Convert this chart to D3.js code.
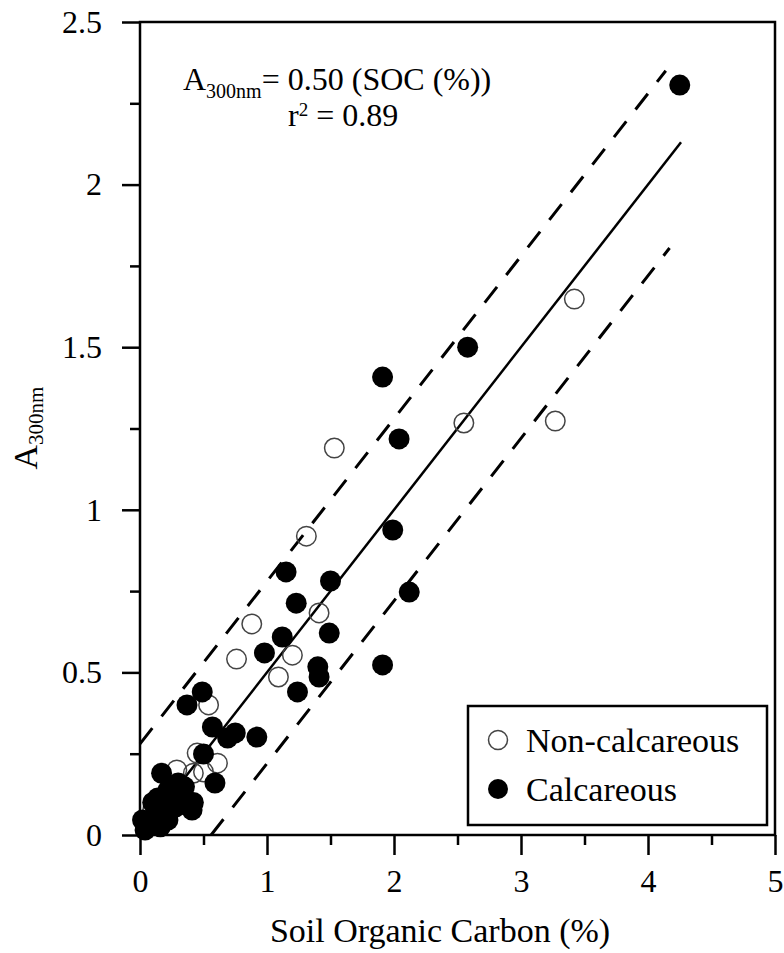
<!DOCTYPE html>
<html><head><meta charset="utf-8">
<script src="https://cdn.jsdelivr.net/npm/d3@7"></script>
<style>body{margin:0;background:#fff}svg{display:block}text{font-family:"Liberation Serif","Times New Roman",serif;fill:#000}</style>
</head><body>
<svg id="c" width="784" height="953"></svg>
<script>
// Calcareous (filled) : [SOC %, A300nm]
const calcSOC = [4.25,2.58,1.91,2.04,1.99,2.12,1.91,1.15,1.50,1.23,1.49,1.12,0.98,1.40,1.41,1.24,0.49,0.37,0.57,0.75,0.69,0.92,0.50,0.59,0.17,0.22,0.35,0.42,0.14,0.28,0.41,0.12,0.02,0.04,0.16,0.22,0.30,0.25,0.33,0.18,0.08,0.30,0.10];
const calcA   = [2.306,1.50,1.408,1.218,0.938,0.747,0.523,0.809,0.781,0.713,0.621,0.609,0.560,0.517,0.486,0.44,0.44,0.40,0.332,0.314,0.298,0.301,0.249,0.16,0.19,0.138,0.148,0.10,0.114,0.086,0.077,0.062,0.046,0.015,0.025,0.046,0.108,0.12,0.13,0.08,0.03,0.16,0.10];
// Non-calcareous (open)
const nonSOC = [3.42,2.55,3.27,1.53,1.31,1.41,0.88,1.20,0.76,1.09,0.54,0.45,0.61,0.29,0.42,0.50,0.10];
const nonA   = [1.648,1.267,1.273,1.19,0.919,0.683,0.649,0.553,0.541,0.486,0.40,0.252,0.221,0.20,0.19,0.194,0.077];
const xTicks = [0,1,2,3,4,5];
const yTicks = [0,0.5,1,1.5,2,2.5];
const xMinor = [0.5,1.5,2.5,3.5,4.5];
const yMinor = [0.25,0.75,1.25,1.75,2.25];
const slope = 0.50, band = 0.28;
const fitRange = [0, 4.26], upRange = [0, 4.14], loRange = [0.56, 4.17];
const legendLabels = ["Non-calcareous","Calcareous"];

const svg = d3.select("#c");
const x = d3.scaleLinear().domain([0,5]).range([140,775]);
const y = d3.scaleLinear().domain([0,2.5]).range([835,22]);

// axes
svg.append("g").attr("transform","translate(0,835)")
  .call(d3.axisBottom(x).tickValues(xTicks).tickSize(20).tickPadding(14).tickFormat(d3.format("")));
svg.append("g").attr("transform","translate(0,835)")
  .call(d3.axisBottom(x).tickValues(xMinor).tickSize(10).tickFormat(""));
svg.append("g").attr("transform","translate(140,0)")
  .call(d3.axisLeft(y).tickValues(yTicks).tickSize(18).tickPadding(20).tickFormat(d=>d3.format("")(d)));
svg.append("g").attr("transform","translate(140,0)")
  .call(d3.axisLeft(y).tickValues(yMinor).tickSize(10).tickFormat(""));
svg.selectAll(".domain").remove();
svg.selectAll(".tick line").attr("stroke","#000").attr("stroke-width",2.5);
svg.selectAll(".tick text").attr("font-size",32).attr("font-family","Liberation Serif");
// frame
svg.append("rect").attr("x",x(0)).attr("y",y(2.5)).attr("width",x(5)-x(0)).attr("height",y(0)-y(2.5))
  .attr("fill","none").attr("stroke","#000").attr("stroke-width",2.5);

// regression lines
const line = d3.line().x(d=>x(d[0])).y(d=>y(d[1]));
const seg = (r,off)=>r.map(v=>[v, slope*v+off]);
svg.append("path").attr("d",line(seg(fitRange,0))).attr("stroke","#000").attr("stroke-width",2.5).attr("fill","none");
svg.append("path").attr("d",line(seg(upRange,band))).attr("stroke","#000").attr("stroke-width",3).attr("fill","none").attr("stroke-dasharray","20,15");
svg.append("path").attr("d",line(seg(loRange,-band))).attr("stroke","#000").attr("stroke-width",3).attr("fill","none").attr("stroke-dasharray","20,15");

// points
const R = 10.5;
svg.append("g").selectAll("circle").data(nonSOC.map((v,i)=>[v,nonA[i]])).join("circle")
  .attr("cx",d=>x(d[0])).attr("cy",d=>y(d[1])).attr("r",R-0.75)
  .attr("fill","none").attr("stroke","#444").attr("stroke-width",1.5);
svg.append("g").selectAll("circle").data(calcSOC.map((v,i)=>[v,calcA[i]])).join("circle")
  .attr("cx",d=>x(d[0])).attr("cy",d=>y(d[1])).attr("r",R).attr("fill","#000");

// equation
const eq = svg.append("text").attr("x",183).attr("y",90).attr("font-size",32);
eq.append("tspan").text("A");
eq.append("tspan").attr("font-size",20).attr("dy",8).text("300nm");
eq.append("tspan").attr("dy",-8).text("= 0.50 (SOC (%))");
const r2 = svg.append("text").attr("x",288).attr("y",126).attr("font-size",32);
r2.append("tspan").text("r");
r2.append("tspan").attr("font-size",19).attr("dy",-10).text("2");
r2.append("tspan").attr("dy",10).text(" = 0.89");

// legend
svg.append("rect").attr("x",468).attr("y",706).attr("width",299).attr("height",119)
  .attr("fill","#fff").attr("stroke","#000").attr("stroke-width",2.5);
svg.append("circle").attr("cx",498).attr("cy",740).attr("r",9.5).attr("fill","none").attr("stroke","#444").attr("stroke-width",1.5);
svg.append("circle").attr("cx",498).attr("cy",789).attr("r",10).attr("fill","#000");
svg.append("text").attr("x",526).attr("y",752).attr("font-size",34).text(legendLabels[0]);
svg.append("text").attr("x",526).attr("y",801).attr("font-size",34).text(legendLabels[1]);

// axis titles
svg.append("text").attr("x",440).attr("y",942).attr("text-anchor","middle").attr("font-size",34).text("Soil Organic Carbon (%)");
const yl = svg.append("text").attr("transform","translate(37,428) rotate(-90)").attr("text-anchor","middle").attr("font-size",34);
yl.append("tspan").text("A");
yl.append("tspan").attr("font-size",21).attr("dy",6).text("300nm");
</script>
</body></html>
